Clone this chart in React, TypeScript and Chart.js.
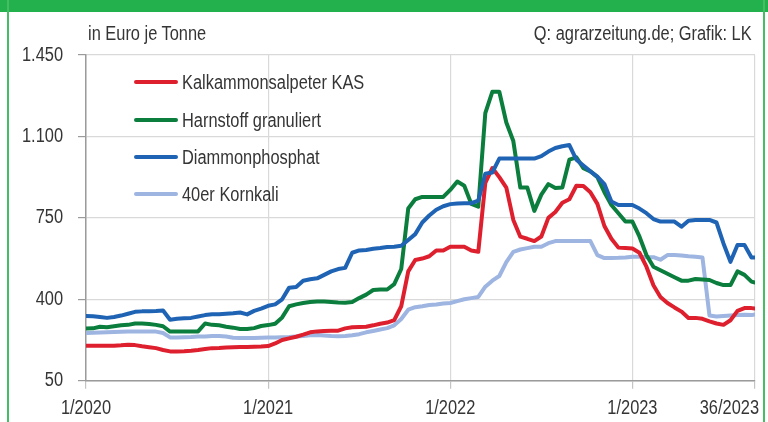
import React, { useEffect, useRef } from "react";
import { Chart, registerables } from "chart.js";

Chart.register(...registerables);

const FONT = '"Liberation Sans", Arial, sans-serif';
const TEXT_COLOR = "#353535";
const SQUEEZE = 0.82;

// Week index since 1/2020 (every second week, last point = 36/2023)
const weeks = [
  0, 2, 4, 6, 8, 10, 12, 14, 16, 18,
  20, 22, 24, 26, 28, 30, 32, 34, 36, 38,
  40, 42, 44, 46, 48, 50, 52, 54, 56, 58,
  60, 62, 64, 66, 68, 70, 72, 74, 76, 78,
  80, 82, 84, 86, 88, 90, 92, 94, 96, 98,
  100, 102, 104, 106, 108, 110, 112, 114, 116, 118,
  120, 122, 124, 126, 128, 130, 132, 134, 136, 138,
  140, 142, 144, 146, 148, 150, 152, 154, 156, 158,
  160, 162, 164, 166, 168, 170, 172, 174, 176, 178,
  180, 182, 184, 186, 188, 190, 191,
];

const kas = [
  200, 200, 200, 200, 200, 202, 205, 203, 198, 194,
  190, 182, 176, 176, 177, 179, 182, 186, 190, 191,
  193, 194, 195, 195, 196, 197, 199, 210, 225, 232,
  239, 248, 258, 262, 264, 265, 265, 275, 280, 281,
  282, 288, 295, 300, 310, 370, 520, 569, 575, 585,
  610, 610, 626, 626, 626, 610, 604, 900, 964, 925,
  880, 741, 669, 660, 650, 670, 750, 775, 815, 830,
  888, 887, 860, 810, 715, 660, 622, 620, 618, 600,
  540, 460, 410, 384, 365, 347, 320, 320, 316, 305,
  296, 290, 310, 350, 362, 362, 360,
];

const harnstoff = [
  274, 275, 282, 280, 284, 288, 290, 296, 296, 294,
  290, 284, 261, 261, 261, 261, 262, 296, 290, 288,
  282, 278, 272, 272, 276, 285, 289, 295, 322, 370,
  378, 384, 388, 390, 390, 388, 386, 385, 388, 405,
  420, 440, 442, 442, 465, 530, 790, 830, 840, 840,
  840, 840, 870, 906, 888, 810, 798, 1200, 1292, 1292,
  1160, 1080, 880, 880, 780, 850, 895, 878, 880, 1000,
  1010, 964, 950, 925, 860, 805, 770, 734, 734, 670,
  590, 540, 525, 510, 495, 480, 480, 487, 485, 483,
  470, 461, 461, 520, 505, 476, 472,
];

const dap = [
  328, 327, 324, 320, 324, 330, 338, 346, 348, 349,
  350, 352, 312, 316, 318, 320, 326, 332, 336, 336,
  338, 340, 343, 335, 350, 360, 372, 378, 400, 450,
  453, 480, 486, 490, 505, 520, 530, 535, 600, 610,
  612, 617, 620, 625, 626, 630, 655, 680, 730, 760,
  785, 800, 809, 812, 813, 813, 824, 940, 945, 1005,
  1005, 1005, 1005, 1005, 1005, 1015, 1035, 1050, 1058, 1063,
  1000, 975, 950, 927, 895, 820, 805, 805, 805, 790,
  770, 745, 734, 734, 734, 712, 738, 741, 741, 741,
  730, 640, 561, 633, 633, 580, 580,
];

const kornkali = [
  255, 256, 257, 258, 259, 260, 261, 261, 262, 261,
  261, 255, 236, 236, 237, 238, 240, 240, 242, 242,
  240, 235, 234, 234, 234, 235, 236, 236, 237, 238,
  240, 242, 245, 246, 244, 242, 241, 242, 245, 250,
  258, 264, 270, 276, 288, 315, 355, 366, 370, 375,
  378, 382, 384, 392, 400, 405, 410, 454, 480, 500,
  560, 604, 614, 620, 626, 626, 641, 650, 650, 650,
  650, 650, 650, 590, 577, 577, 578, 580, 583, 583,
  581, 581, 570, 590, 590, 588, 585, 583, 580, 330,
  326, 328, 330, 332, 333, 332, 335,
];

const seriesNames = ["Kalkammonsalpeter KAS", "Harnstoff granuliert", "Diammonphosphat", "40er Kornkali"];
const seriesValues = [kas, harnstoff, dap, kornkali];
const seriesColors = ["#de1f2e", "#0b7e3e", "#1f63b4", "#9db5e0"];
const seriesOrder = [1, 2, 0, 3];

const xTickWeeks = [0, 52, 104, 156, 191];
const xTickLabels = ["1/2020", "1/2021", "1/2022", "1/2023", "36/2023"];
const yTickValues = [50, 400, 750, 1100, 1450];
const yTickLabels = ["50", "400", "750", "1.100", "1.450"];

const legendRowsY = [82, 119.5, 157, 194];

function drawSqueezed(ctx: CanvasRenderingContext2D, text: string, x: number, y: number, align: "left" | "center" | "right") {
  const w = ctx.measureText(text).width * SQUEEZE;
  let left = x;
  if (align === "center") left = x - w / 2;
  if (align === "right") left = x - w;
  ctx.save();
  ctx.translate(left, y);
  ctx.scale(SQUEEZE, 1);
  ctx.textAlign = "left";
  ctx.fillText(text, 0, 0);
  ctx.restore();
}

export default function App() {
  const canvasRef = useRef<HTMLCanvasElement>(null);

  useEffect(() => {
    document.body.style.margin = "0";
    const canvas = canvasRef.current;
    if (!canvas) return;

    const datasets = seriesValues.map((vals, i) => ({
      label: seriesNames[i],
      data: weeks.map((w, j) => ({ x: w, y: vals[j] })),
      borderColor: seriesColors[i],
      backgroundColor: seriesColors[i],
      borderWidth: 4,
      pointRadius: 0,
      pointHoverRadius: 0,
      tension: 0,
      fill: false,
      order: seriesOrder[i],
      borderJoinStyle: "round" as const,
      borderCapStyle: "round" as const,
    }));

    const labelPlugin = {
      id: "axisLabels",
      afterDraw(chart: any) {
        const { ctx, scales } = chart;
        ctx.save();
        ctx.font = `20px ${FONT}`;
        ctx.fillStyle = TEXT_COLOR;
        ctx.textBaseline = "middle";
        xTickWeeks.forEach((w, i) => {
          const label = xTickLabels[i];
          const width = ctx.measureText(label).width * SQUEEZE;
          let px = scales.x.getPixelForValue(w);
          const maxRight = 759;
          if (px + width / 2 > maxRight) px = maxRight - width / 2;
          drawSqueezed(ctx, label, px, 408, "center");
        });
        yTickValues.forEach((v, i) => {
          const py = scales.y.getPixelForValue(v);
          drawSqueezed(ctx, yTickLabels[i], 63, py, "right");
        });
        ctx.restore();
      },
    };

    const chart = new Chart(canvas, {
      type: "line",
      data: { datasets },
      options: {
        animation: false,
        responsive: false,
        devicePixelRatio: 1,
        layout: { padding: { top: 55, right: 13, bottom: 0, left: 0 } },
        plugins: { legend: { display: false }, tooltip: { enabled: false } },
        scales: {
          x: {
            type: "linear",
            min: 0,
            max: 191,
            afterBuildTicks: (s: any) => {
              s.ticks = xTickWeeks.map((v) => ({ value: v }));
            },
            afterFit: (s: any) => {
              s.height = 41.3;
            },
            ticks: { display: false },
            grid: { color: "#d9d9d9", lineWidth: 1.2, tickLength: 8, tickColor: "#c4c4c4", drawTicks: true },
            border: { color: "#9b9b9b", width: 1.5 },
          },
          y: {
            type: "linear",
            min: 50,
            max: 1450,
            afterBuildTicks: (s: any) => {
              s.ticks = yTickValues.map((v) => ({ value: v }));
            },
            afterFit: (s: any) => {
              s.width = 86;
            },
            ticks: { display: false },
            grid: { color: "#d9d9d9", lineWidth: 1.2, tickLength: 8, tickColor: "#9b9b9b", drawTicks: true },
            border: { color: "#9b9b9b", width: 1.5 },
          },
        },
      } as any,
      plugins: [labelPlugin],
    });

    return () => chart.destroy();
  }, []);

  const textStyle: React.CSSProperties = {
    position: "absolute",
    fontFamily: FONT,
    fontSize: 20,
    lineHeight: "22px",
    color: TEXT_COLOR,
    whiteSpace: "nowrap",
  };

  return (
    <div style={{ position: "relative", width: 768, height: 422, background: "#fff", overflow: "hidden" }}>
      <canvas ref={canvasRef} width={768} height={422} style={{ position: "absolute", left: 0, top: 0, width: 768, height: 422 }} />
      <div style={{ position: "absolute", left: 0, top: 0, width: 768, height: 12, background: "#22b14c" }} />
      <div style={{ position: "absolute", left: 7, top: 0, width: 2, height: 422, background: "#45bd62" }} />
      <div style={{ position: "absolute", left: 763, top: 0, width: 2, height: 422, background: "#45bd62" }} />
      <div style={{ ...textStyle, left: 88, top: 22, transform: `scaleX(${SQUEEZE})`, transformOrigin: "left center" }}>
        in Euro je Tonne
      </div>
      <div style={{ ...textStyle, right: 16, top: 22, transform: `scaleX(${SQUEEZE})`, transformOrigin: "right center" }}>
        Q: agrarzeitung.de; Grafik: LK
      </div>
      {seriesNames.map((name, i) => (
        <React.Fragment key={name}>
          <div
            style={{
              position: "absolute",
              left: 134,
              top: legendRowsY[i] - 2,
              width: 44,
              height: 4,
              background: seriesColors[i],
              borderRadius: 2,
            }}
          />
          <div
            style={{
              ...textStyle,
              left: 182,
              top: legendRowsY[i] - 11,
              transform: `scaleX(${SQUEEZE})`,
              transformOrigin: "left center",
            }}
          >
            {name}
          </div>
        </React.Fragment>
      ))}
    </div>
  );
}
